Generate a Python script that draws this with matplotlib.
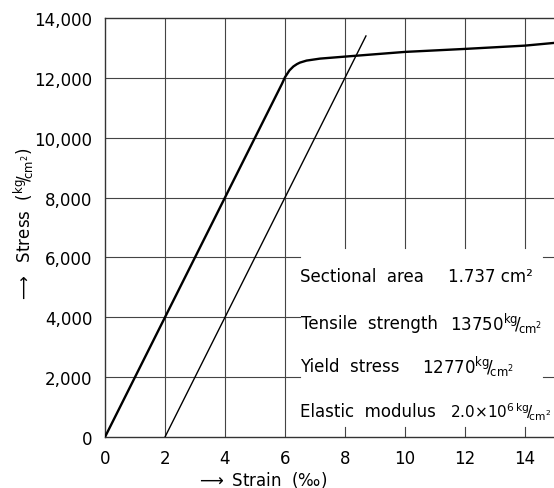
import matplotlib
matplotlib.use("Agg")
import matplotlib.pyplot as plt
import numpy as np

# data
main_strain = [0, 5.9, 6.0, 6.15, 6.28, 6.4, 6.5, 6.72, 7.17, 8, 10, 12, 14, 15]
main_stress = [0, 11800, 12020, 12250, 12380, 12460, 12510, 12577, 12643, 12710, 12867, 12967, 13077, 13170]
reload_strain = [2, 8.7]
reload_stress = [0, 13400]
xticks = [0, 2, 4, 6, 8, 10, 12, 14]
yticks = [0, 2000, 4000, 6000, 8000, 10000, 12000, 14000]
ytick_labels = ["0", "2,000", "4,000", "6,000", "8,000", "10,000", "12,000", "14,000"]
xtick_labels = ["0", "2", "4", "6", "8", "10", "12", "14"]

plt.rcParams['font.family'] = ['DejaVu Sans']
fig = plt.figure(figsize=(5.54, 4.89), dpi=100)
ax = fig.add_axes([105/554, 1-438/489, 1-105/554, (438-19)/489])
ax.set_xlim(0, 14.97)
ax.set_ylim(0, 14000)

gc = '#444444'
glw = 0.8
# horizontal grid lines
for y in [2000, 4000, 6000, 8000, 10000, 12000]:
    if y in (2000, 4000, 6000):
        ax.plot([0, 6.5], [y, y], color=gc, lw=glw, zorder=1)
        if y != 4000:
            ax.plot([14.6, 14.97], [y, y], color=gc, lw=glw, zorder=1)
    else:
        ax.plot([0, 14.97], [y, y], color=gc, lw=glw, zorder=1)
# vertical grid lines
for x in [2, 4, 6]:
    ax.plot([x, x], [0, 14000], color=gc, lw=glw, zorder=1)
for x in [8, 10, 12, 14]:
    ax.plot([x, x], [6300, 14000], color=gc, lw=glw, zorder=1)
    ax.plot([x, x], [0, 350], color=gc, lw=glw, zorder=1)

ax.plot(main_strain, main_stress, color='black', lw=1.7, zorder=3)
ax.plot(reload_strain, reload_stress, color='black', lw=1.0, zorder=3)

ax.spines['right'].set_visible(False)
for s in ['left', 'bottom', 'top']:
    ax.spines[s].set_color('#333333')
    ax.spines[s].set_linewidth(1.0)

ax.set_xticks(xticks)
ax.set_xticklabels(xtick_labels)
ax.set_yticks(yticks)
ax.set_yticklabels(ytick_labels)
ax.tick_params(length=0, labelsize=12, pad=9)

fs = 12
ax.text(6.5, 5370, "Sectional  area", fontsize=fs, va='center', ha='left')
ax.text(11.43, 5370, "1.737 cm²", fontsize=fs, va='center', ha='left')
ax.text(6.53, 3800, "Tensile  strength", fontsize=fs, va='center', ha='left')
ax.text(11.5, 3800, r"13750$^{\mathrm{kg}}\!/\!_{\mathrm{cm}^2}$", fontsize=fs, va='center', ha='left')
ax.text(6.5, 2370, "Yield  stress", fontsize=fs, va='center', ha='left')
ax.text(10.57, 2370, r"12770$^{\mathrm{kg}}\!/\!_{\mathrm{cm}^2}$", fontsize=fs, va='center', ha='left')
ax.text(6.5, 870, "Elastic  modulus", fontsize=fs, va='center', ha='left')
ax.text(11.5, 870, r"2.0$\times$10$^{6\,\mathrm{kg}}\!/\!_{\mathrm{cm}^2}$", fontsize=11, va='center', ha='left')

fig.text(262/554, 1-480/489, r"$\longrightarrow$ Strain  (‰)", fontsize=12, ha='center', va='center')
fig.text(24/554, 1-225/489, r"$\longrightarrow$  Stress  ($^{\mathrm{kg}}\!/\!_{\mathrm{cm}^2}$)", fontsize=12,
         ha='center', va='center', rotation=90)

fig.savefig("out.png", dpi=100)
